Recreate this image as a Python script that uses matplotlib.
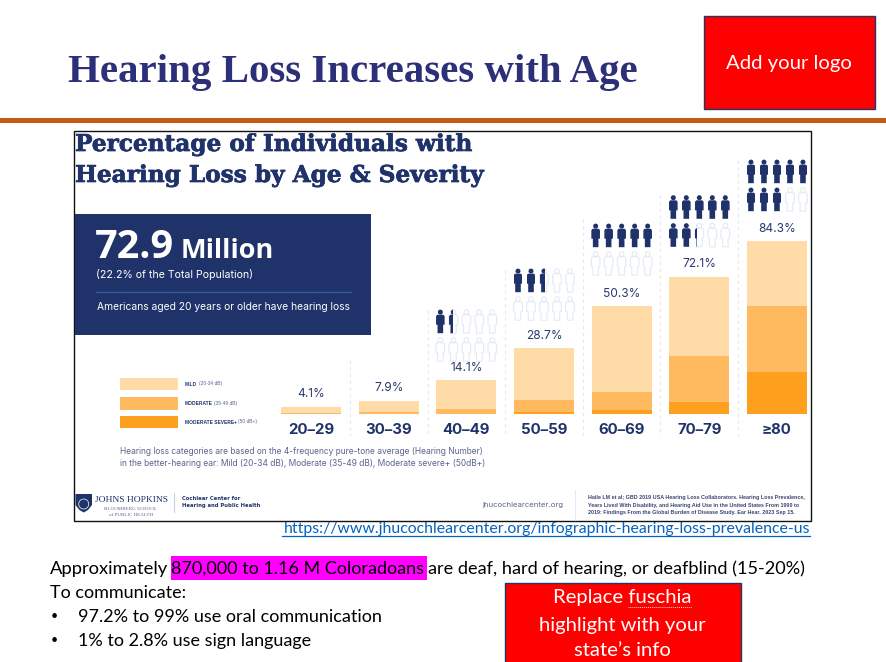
import matplotlib
matplotlib.use("Agg")
import matplotlib.pyplot as plt
import matplotlib.patheffects as pe
from matplotlib.patches import Rectangle, Polygon, Circle
import numpy as np

# 1. Data
age_groups = ["20–29", "30–39", "40–49", "50–59", "60–69", "70–79", "≥80"]
pct_labels = [4.1, 7.9, 14.1, 28.7, 50.3, 72.1, 84.3]
severe = [0.0, 0.0, 0.0, 0.8, 1.8, 5.6, 20.2]
moderate = [0.5, 0.8, 2.3, 5.9, 8.9, 22.7, 32.3]
mild = [2.8, 5.4, 14.0, 25.2, 41.8, 38.4, 31.7]
icons_filled = [0, 0, 1.5, 2.6, 5, 7.2, 8]
legend_names = ["MILD", "MODERATE", "MODERATE SEVERE+"]
legend_ranges = ["(20-34 dB)", "(35-49 dB)", "(50 dB+)"]

NAVY = "#1F3269"
MILD_C, MOD_C, SEV_C = "#FFDBA8", "#FFB95F", "#FF9F1E"
PALE = "#E3EAF5"
W, H = 886, 662

fig = plt.figure(figsize=(W / 100, H / 100), dpi=100)

# slide layer, works in image pixels
ax = fig.add_axes([0, 0, 1, 1])
ax.set_xlim(0, W)
ax.set_ylim(H, 0)
ax.axis("off")


def box(x0, y0, x1, y1, **kw):
    ax.add_patch(Rectangle((x0, y0), x1 - x0, y1 - y0, **kw))


def txt(x, y, s, size, color="black", family="Lato", weight="normal", ha="left", va="center", **kw):
    return ax.text(x, y, s, fontsize=size, color=color, family=family, weight=weight, ha=ha, va=va, **kw)


# 2. Slide header
txt(68, 72.5, "Hearing Loss Increases with Age", 29.4, "#2B3078", "Liberation Serif", "bold")
box(704.5, 15.5, 875, 109, facecolor="#FF0000", edgecolor="#1F3864", lw=1)
txt(789, 63, "Add your logo", 14.6, "white", ha="center")
box(0, 118, W, 123, facecolor="#C55A11", edgecolor="none")

# 3. Infographic frame and heading
box(74.5, 130.5, 811, 521, facecolor="white", edgecolor="#111111", lw=1, zorder=0.5)
heavy = [pe.withStroke(linewidth=0.5, foreground=NAVY)]
txt(75, 145, "Percentage of Individuals with", 16.7, NAVY, "DejaVu Serif", "bold", path_effects=heavy)
txt(75, 176, "Hearing Loss by Age & Severity", 16.7, NAVY, "DejaVu Serif", "bold", path_effects=heavy)

box(75, 213.5, 371, 335, facecolor=NAVY, edgecolor="none")
txt(95, 248, "72.9", 28.5, "white", "Open Sans", "bold")
txt(181, 251, "Million", 19.5, "white", "Open Sans", "bold")
txt(96, 274, "(22.2% of the Total Population)", 7.6, "white", "Inter")
ax.plot([96, 351], [292, 292], color="#2C5C9C", lw=1)
txt(97, 307, "Americans aged 20 years or older have hearing loss", 7.4, "white", "Inter")

# 4. Legend
for y0, c, name, rng in zip([377.7, 397, 415.7], [MILD_C, MOD_C, SEV_C], legend_names, legend_ranges):
    box(120, y0, 178, y0 + 12.6, facecolor=c, edgecolor="none")
    t = txt(185, y0 + 6.3, name, 3.5, NAVY, "Liberation Sans", "bold")
    fig.canvas.draw()
    ext = t.get_window_extent()
    txt(ext.x1 + 1.5, y0 + 6.3, rng, 3.5, "#5A658F", "Liberation Sans")

txt(120, 451, "Hearing loss categories are based on the 4-frequency pure-tone average (Hearing Number)", 6.04, "#5A658F", "Inter")
txt(120, 464, "in the better-hearing ear: Mild (20-34 dB), Moderate (35-49 dB), Moderate severe+ (50dB+)", 6.04, "#5A658F", "Inter")

# 5. Separators between the age columns
for x, top in zip([350, 428, 505, 582.7, 660, 737.7], [360, 310, 270, 219, 195, 160]):
    ax.plot([x, x], [top, 436], color=PALE, lw=0.8, ls=(0, (3, 3)))

# 6. Stacked bars, on their own axes: y scale is 2.05 px per unit, baseline at 413.7
x_left, x_right = 272.2, 815.8
y_base, y_top = 413.7, 413.7 - 90 * 2.05
bar_ax = fig.add_axes([x_left / W, 1 - y_base / H, (x_right - x_left) / W, (y_base - y_top) / H])
bar_ax.patch.set_alpha(0)
pos = np.arange(len(age_groups))
bar_w = 0.772
severe_a, moderate_a, mild_a = np.array(severe), np.array(moderate), np.array(mild)
bar_ax.bar(pos, severe_a, bar_w, color=SEV_C)
bar_ax.bar(pos, moderate_a, bar_w, bottom=severe_a, color=MOD_C)
tops = severe_a + moderate_a + mild_a
bar_ax.bar(pos, mild_a, bar_w, bottom=severe_a + moderate_a, color=MILD_C)
bar_ax.set_xlim(-0.5, 6.5)
bar_ax.set_ylim(0, 90)
bar_ax.set_yticks([])
bar_ax.set_xticks(pos)
bar_ax.set_xticklabels(age_groups, fontsize=10.8, fontweight="bold", color=NAVY, family="Inter")
bar_ax.tick_params(axis="x", length=0, pad=6.5)
for s in bar_ax.spines.values():
    s.set_visible(False)
for p, top, lab in zip(pos, tops, pct_labels):
    bar_ax.annotate(f"{lab}%", (p, top), xytext=(0, 9), textcoords="offset points", ha="center", va="center",
                    fontsize=8.6, color="#2B3A6E", family="Inter", annotation_clip=False)

# 7. Person icons, five to a row, filled
body = np.array([(-3, -7), (3, -7), (4.3, -5.5), (4.3, 3), (2.8, 3), (2.8, 11.5),
                 (-2.8, 11.5), (-2.8, 3), (-4.3, 3), (-4.3, -5.5)])
first_row_y = {2: 321.7, 3: 280.7, 4: 235.7, 5: 207.3, 6: 171.7}
bar_cx = x_left + (pos + 0.5) * (x_right - x_left) / len(age_groups)


def person(cx, cy, fill):
    if fill < 1:
        ax.add_patch(Polygon(body + [cx, cy], closed=True, facecolor="none", edgecolor=PALE, lw=0.8))
        ax.add_patch(Circle((cx, cy - 9.6), 2.3, facecolor="none", edgecolor=PALE, lw=0.8))
    if fill > 0:
        clip = Rectangle((cx - 4.3, cy - 13), 8.6 * fill, 26, transform=ax.transData)
        for p in (Polygon(body + [cx, cy], closed=True, facecolor=NAVY, edgecolor="none"),
                  Circle((cx, cy - 9.6), 2.5, facecolor=NAVY, edgecolor="none")):
            ax.add_patch(p)
            p.set_clip_path(clip)


for i, y0 in first_row_y.items():
    for k in range(10):
        cx = bar_cx[i] + (k % 5 - 2) * 13
        cy = y0 + (k // 5) * 28
        person(cx, cy, min(max(icons_filled[i] - k, 0), 1))

# 8. Infographic footer
shield = [(75.5, 494), (92, 494), (92, 505), (88, 510), (83.7, 512.5), (79.5, 510), (75.5, 505)]
ax.add_patch(Polygon(shield, closed=True, facecolor=NAVY, edgecolor="none"))
ax.add_patch(Circle((83.7, 504), 5, facecolor="none", edgecolor="white", lw=0.5))
txt(95, 500, "JOHNS HOPKINS", 6.8, NAVY, "Liberation Serif")
txt(131, 509, "BLOOMBERG SCHOOL", 3.6, "#5A658F", "Liberation Serif", ha="center")
txt(131, 515, "of PUBLIC HEALTH", 3.6, "#5A658F", "Liberation Serif", ha="center")
ax.plot([174, 174], [493, 512], color="#C9D2E3", lw=0.8)
txt(182, 498, "Cochlear Center for", 3.75, NAVY, "DejaVu Sans", "bold")
txt(182, 505.5, "Hearing and Public Health", 3.75, NAVY, "DejaVu Sans", "bold")
txt(482, 505, "jhucochlearcenter.org", 5.6, "#5A658F", "Inter")
ax.plot([575.5, 575.5], [490, 520], color=PALE, lw=0.8)
refs = ["Haile LM et al; GBD 2019 USA Hearing Loss Collaborators. Hearing Loss Prevalence,",
        "Years Lived With Disability, and Hearing Aid Use in the United States From 1990 to",
        "2019: Findings From the Global Burden of Disease Study. Ear Hear. 2023 Sep 15."]
for y, line in zip([497.5, 505, 512.5], refs):
    txt(588, y, line, 3.92, "#3A4675", "Liberation Sans", "bold")

# 9. Link and slide text
url = "https://www.jhucochlearcenter.org/infographic-hearing-loss-prevalence-us"
txt(810, 529, url, 11.4, "#0563C1", ha="right")
ax.plot([282, 810], [536, 536], color="#0563C1", lw=0.9)

box(171, 556, 427, 580, facecolor="#FF00FF", edgecolor="none")
txt(50, 569, "Approximately", 13.2)
txt(171.5, 569, "870,000 to 1.16 M Coloradoans", 13)
txt(428, 569, "are deaf, hard of hearing, or deafblind (15-20%)", 13.1)
txt(50, 593, "To communicate:", 13)
txt(51, 616, "•", 9)
txt(78, 617, "97.2% to 99% use oral communication", 13)
txt(51, 640, "•", 9)
txt(78, 641, "1% to 2.8% use sign language", 13)

box(505, 582.5, 741, 663, facecolor="#FF0000", edgecolor="#1F3864", lw=1)
txt(622.5, 598, "Replace fuschia", 14.6, "white", ha="center")
ax.plot([628, 692], [607, 607], color="#FFD0D0", lw=0.7, ls=(0, (1, 1)))
txt(622.5, 625, "highlight with your", 14.6, "white", ha="center")
txt(622.5, 651, "state’s info", 14.6, "white", ha="center")

fig.savefig("out.png", dpi=100)
